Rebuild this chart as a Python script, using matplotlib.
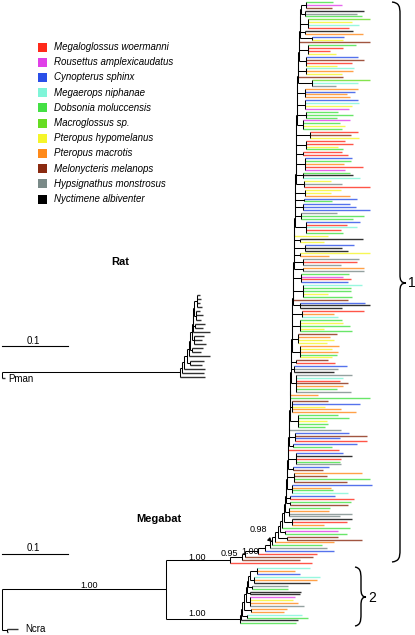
import matplotlib.pyplot as plt
from matplotlib.path import Path
from matplotlib.patches import PathPatch, Rectangle

plt.rcParams['font.family'] = ['Liberation Sans', 'DejaVu Sans']

# legend: species and colours, keyed by a one-letter code used in the tip strings
species_codes = ['R', 'M', 'B', 'C', 'G', 'L', 'Y', 'O', 'D', 'H', 'K']
species_names = ['Megaloglossus woermanni', 'Rousettus amplexicaudatus', 'Cynopterus sphinx',
                 'Megaerops niphanae', 'Dobsonia moluccensis', 'Macroglossus sp.',
                 'Pteropus hypomelanus', 'Pteropus macrotis', 'Melonycteris melanops',
                 'Hypsignathus monstrosus', 'Nyctimene albiventer']
species_colors = ['#ff2a1a', '#e040e8', '#2a4fe8', '#7ff5d8', '#44e044', '#66dd22',
                  '#f5f52a', '#ff8a1a', '#8a2a10', '#7a8a88', '#000000']
COL = dict(zip(species_codes, species_colors))

# megabat clade 1, tips listed top to bottom; depths in 1/1000 substitutions per site
clade1_species = ("GMDKHGLYCR" "KOBYDGRRYB" "DRYCOYDLCH" "OBOOBCYMGG" "GMGYGRDYRR"
                  "YGRRBGORMG" "KCYHRYYOBG" "BBBHGGBRCR" "GYKYBKKYOH" "RHOHGMRBCG"
                  "GYGDBKKROC" "GYGYGDOYYO" "YOGYDRBHKH" "CRDOGHOGDB" "YOOGGYGGHB"
                  "DBRBGRBKRG" "HBDODGDBOG" "CBRGDGOHHK" "ROGMGDDOGH" "BRDDR")
clade1_tips = [501, 515, 500, 548, 538, 545, 558, 530, 541, 526,
               532, 547, 518, 517, 558, 536, 517, 497, 506, 539,
               548, 530, 508, 533, 532, 515, 517, 558, 539, 506,
               539, 535, 523, 527, 539, 541, 530, 526, 509, 532,
               508, 527, 512, 520, 515, 539, 529, 541, 520, 532,
               509, 517, 515, 524, 530, 529, 518, 547, 520, 527,
               532, 542, 498, 515, 558, 514, 498, 527, 538, 500,
               527, 536, 558, 508, 548, 532, 542, 523, 538, 514,
               517, 494, 547, 488, 533, 515, 524, 558, 495, 541,
               538, 514, 548, 548, 526, 517, 529, 524, 545, 529,
               529, 494, 530, 524, 550, 558, 515, 548, 503, 509,
               515, 517, 527, 488, 530, 508, 497, 503, 492, 511,
               500, 509, 508, 500, 494, 504, 523, 509, 503, 530,
               517, 512, 524, 517, 508, 529, 479, 558, 494, 542,
               489, 514, 536, 509, 526, 492, 494, 489, 514, 526,
               553, 512, 553, 538, 500, 511, 517, 530, 514, 512,
               514, 495, 486, 545, 492, 558, 523, 561, 498, 501,
               524, 504, 533, 529, 524, 497, 495, 530, 512, 530,
               523, 488, 527, 509, 523, 509, 545, 503, 485, 492,
               503, 477, 471, 451, 470]
# (number of tips, depth of backbone node, depth of subclade node), top to bottom
clade1_groups = [(3, 454, 461), (3, 453, 459), (4, 451, 464), (2, 451, 459), (2, 451, 470),
                 (1, 450, 450), (4, 450, 464), (4, 450, 461), (3, 448, 461), (1, 448, 448),
                 (3, 448, 470), (4, 447, 459), (4, 447, 459), (3, 447, 461), (4, 447, 456),
                 (3, 445, 467), (4, 445, 461), (2, 445, 456), (5, 445, 459), (3, 445, 456),
                 (3, 445, 458), (3, 444, 459), (2, 444, 458), (3, 444, 456), (3, 444, 453),
                 (5, 444, 461), (1, 442, 442), (2, 442, 451), (3, 442, 459), (2, 442, 451),
                 (3, 442, 456), (2, 442, 456), (4, 441, 453), (5, 441, 456), (1, 441, 441),
                 (3, 441, 451), (3, 439, 454), (5, 439, 451), (4, 439, 448), (5, 439, 451),
                 (2, 438, 445), (3, 438, 442), (7, 438, 445), (1, 436, 436), (1, 436, 436),
                 (5, 436, 439), (5, 436, 448), (1, 435, 435), (4, 435, 444), (2, 435, 441),
                 (1, 433, 433), (5, 433, 445), (2, 433, 441), (4, 432, 442), (4, 432, 439),
                 (2, 430, 436), (2, 430, 436), (4, 429, 435), (3, 427, 439), (1, 424, 424),
                 (2, 421, 429), (2, 418, 432), (1, 414, 414), (1, 409, 409), (1, 406, 406),
                 (1, 398, 398), (1, 388, 388), (1, 368, 368), (1, 364, 364), (1, 345, 345)]

# megabat clade 2
clade2_species = "COBCOKHGKKMYOHOOCGKG"
clade2_tips = [467, 444, 451, 482, 477, 467, 433, 433, 453, 451,
               444, 441, 448, 458, 432, 427, 455, 464, 448, 445]
clade2_groups = [(3, 379, 386), (3, 376, 382), (2, 373, 379), (2, 371, 376), (4, 370, 376),
                 (2, 367, 377), (2, 364, 371), (1, 362, 362), (1, 361, 361)]
megabat_root = 248
ncra_node, ncra_tips = 8, [24, 9]

# rat tree
rat_tips = [300, 301, 300, 303, 300, 305, 301, 308, 305, 315, 306,
            303, 309, 305, 301, 315, 306, 303, 308, 306, 308]
rat_groups = [(4, 292, 295), (3, 291, 294), (2, 289, 292), (1, 289, 289), (3, 288, 291),
              (2, 285, 288), (1, 283, 283), (2, 280, 285), (1, 276, 276), (1, 273, 273),
              (1, 270, 270)]
pman_tip = 4

# layout: reference is 415x635 px, 0.1 subs/site = 66 px
W, H = 415, 635
PX_PER_UNIT = 660.0
X0 = 2
ROW = 2.89


def sy(py):
    return (py - 2) / ROW


fig = plt.figure(figsize=(W / 100, H / 100), dpi=100)
ax = fig.add_axes([0, 0, 1, 1])
ax.set_xlim(-X0 / PX_PER_UNIT, (W - X0) / PX_PER_UNIT)
ax.set_ylim(sy(H), sy(0))
ax.axis('off')

LW_IN = 0.75
LW_TIP = 1.0


def build(codes, tips, groups, y0, step=1.0):
    leaves = [('leaf', t / 1000, COL[c], y0 + i * step) for i, (c, t) in enumerate(zip(codes, tips))]
    subs = []
    i = 0
    for n, bb, nd in groups:
        members = leaves[i:i + n]
        i += n
        subs.append((members[0] if n == 1 else ('node', nd / 1000, members), bb / 1000))
    tree = subs[0][0]
    for sub, bb in subs[1:]:
        tree = ('node', bb, [tree, sub])
    return tree


def draw(node, parent=None):
    if node[0] == 'leaf':
        _, d, col, y = node
        ax.plot([parent, d], [y, y], color=col, lw=LW_TIP, alpha=0.8, solid_capstyle='butt')
        return y
    _, d, kids = node
    ys = [draw(k, d) for k in kids]
    ax.plot([d, d], [min(ys), max(ys)], color='black', lw=LW_IN, solid_capstyle='butt')
    y = sum(ys) / len(ys)
    if parent is not None:
        ax.plot([parent, d], [y, y], color='black', lw=LW_IN, solid_capstyle='butt')
    return y


c1 = build(clade1_species, clade1_tips, clade1_groups, 0)
c2 = build(clade2_species, clade2_tips, clade2_groups, len(clade1_tips) + 1)
ny = len(clade1_tips) + len(clade2_tips) + 2
ncra = ('node', ncra_node / 1000, [('leaf', ncra_tips[0] / 1000, 'black', ny),
                                    ('leaf', ncra_tips[1] / 1000, 'black', ny + 0.9)])
mega = ('node', megabat_root / 1000, [c1, c2])
draw(('node', 0.0, [mega, ncra]))

rat = build('K' * len(rat_tips), rat_tips, rat_groups, sy(295), 4.1 / ROW)
pman = ('leaf', pman_tip / 1000, 'black', sy(378))
draw(('node', 0.0, [rat, pman]))

# scale bars
for py in (346, 554):
    ax.plot([0, 0.1], [sy(py), sy(py)], color='black', lw=0.8)

# overlay in reference pixels for labels, legend and braces
ov = fig.add_axes([0, 0, 1, 1])
ov.set_xlim(0, W)
ov.set_ylim(H, 0)
ov.axis('off')
ov.patch.set_alpha(0)

for i, (name, col) in enumerate(zip(species_names, species_colors)):
    yy = 47 + i * 15.2
    ov.add_patch(Rectangle((37.5, yy - 4.5), 9, 9, color=col, lw=0))
    ov.text(54, yy, name, fontsize=7, style='italic', va='center', ha='left')

ov.text(33, 341, '0.1', fontsize=7, ha='center', va='center')
ov.text(33, 548, '0.1', fontsize=7, ha='center', va='center')
ov.text(120, 262, 'Rat', fontsize=8, weight='bold', ha='center', va='center')
ov.text(159, 519, 'Megabat', fontsize=8, weight='bold', ha='center', va='center')
ov.text(8, 379, 'Pman', fontsize=7, ha='left', va='center')
ov.text(25, 629, 'Ncra', fontsize=7, ha='left', va='center')

for x, y, s in [(89, 585, '1.00'), (197, 557, '1.00'), (197, 614, '1.00'),
                (229, 553, '0.95'), (250, 551, '1.00')]:
    ov.text(x, y, s, fontsize=6.5, ha='center', va='center')
ov.annotate('0.98', xy=(272, 542), xytext=(258, 529), fontsize=6.5, ha='center', va='center',
            arrowprops=dict(arrowstyle='-|>', color='black', lw=0.7, mutation_scale=6,
                            shrinkA=4, shrinkB=0))

# curly braces
def brace(x0, x1, top, bot, mid, tip):
    verts = [(x0, top), (x1 - 1, top + 1), (x1, top + 4), (x1, top + 12),
             (x1, mid - 8),
             (x1, mid - 3), (x1 + 1, mid), (tip, mid),
             (x1 + 1, mid), (x1, mid + 3), (x1, mid + 8),
             (x1, bot - 12),
             (x1, bot - 4), (x1 - 1, bot - 1), (x0, bot)]
    codes = [Path.MOVETO, Path.CURVE4, Path.CURVE4, Path.CURVE4,
             Path.LINETO,
             Path.CURVE4, Path.CURVE4, Path.CURVE4,
             Path.CURVE4, Path.CURVE4, Path.CURVE4,
             Path.LINETO,
             Path.CURVE4, Path.CURVE4, Path.CURVE4]
    ov.add_patch(PathPatch(Path(verts, codes), fill=False, lw=1.0, color='black'))


brace(392, 400, 2, 562, 283, 406)
brace(355, 361, 567, 626, 597, 366)
ov.text(408, 283, '1', fontsize=10, ha='left', va='center')
ov.text(368, 598, '2', fontsize=10, ha='left', va='center')

fig.savefig('out.png', dpi=100)
